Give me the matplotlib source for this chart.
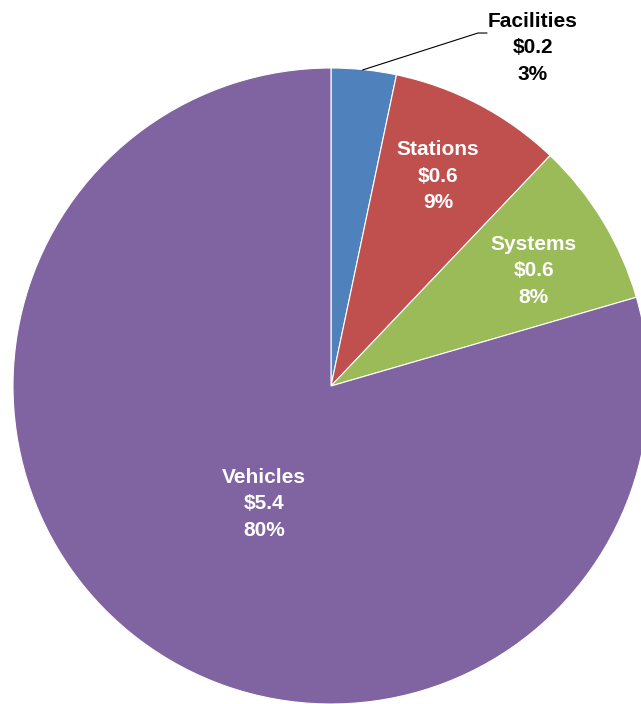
import matplotlib
matplotlib.use('Agg')
import matplotlib.pyplot as plt

# data
names = ['Facilities', 'Stations', 'Systems', 'Vehicles']
dollars = ['$0.2', '$0.6', '$0.6', '$5.4']
pct_labels = ['3%', '9%', '8%', '80%']
shares = [3.3, 8.8, 8.4, 79.5]  # slice sizes as measured from the angles
colors = ['#4F81BD', '#C0504D', '#9BBB59', '#8064A2']

plt.rcParams['font.family'] = ['Liberation Sans Narrow', 'Liberation Sans', 'DejaVu Sans']

fig = plt.figure(figsize=(6.41, 7.04), dpi=100)
ax = fig.add_axes([13 / 641, 0, 636 / 641, 636 / 704])

wedges, _ = ax.pie(shares, colors=colors, startangle=90, counterclock=False,
                   radius=1, wedgeprops=dict(edgecolor='white', linewidth=0.8))
for w in wedges:
    w.set_clip_on(False)
ax.set_xlim(-1, 1)
ax.set_ylim(-1, 1)
ax.set_aspect('equal')
ax.axis('off')

# label centres in axes data units (pie radius = 1)
label_pos = [(0.635, 1.063), (0.336, 0.660), (0.638, 0.362), (-0.211, -0.371)]
label_col = ['black', 'white', 'white', 'white']
for i in range(len(names)):
    txt = names[i] + '\n' + dollars[i] + '\n' + pct_labels[i]
    ax.text(label_pos[i][0], label_pos[i][1], txt, ha='center', va='center',
            fontsize=15, fontweight='bold', color=label_col[i],
            linespacing=1.5, clip_on=False)

# leader line for the small slice
ax.plot([0.10, 0.462, 0.49], [0.994, 1.110, 1.110], color='black',
        lw=0.8, clip_on=False)

fig.savefig('out.png', dpi=100)
